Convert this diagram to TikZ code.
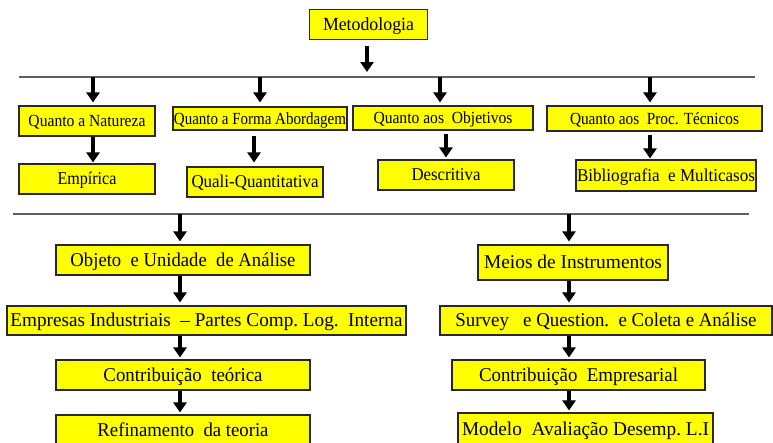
\documentclass[tikz,border=0pt]{standalone}
\usepackage{fontspec}
\setmainfont{Liberation Serif}
\newfontfamily\boxserif[Ligatures=TeX]{Liberation Serif}
\usepackage{graphicx}
\usetikzlibrary{arrows.meta}

% squeeze a label horizontally to a given width (in pt), keeping its height
\newcommand\sqz[2]{\resizebox{#1pt}{\height}{#2}}

\definecolor{boxfill}{RGB}{255,255,0}
\definecolor{boxline}{RGB}{40,40,40}
\definecolor{rulegray}{RGB}{95,95,95}

\tikzset{
  box/.style={draw=boxline, fill=boxfill, line width=1.1pt, inner sep=0pt,
              text=black, text depth=0pt},
  fsmall/.style={font=\boxserif\fontsize{17}{19}\selectfont, text height=11.2pt},
  fmid/.style={font=\boxserif\fontsize{18}{20}\selectfont, text height=11.9pt},
  fbig/.style={font=\boxserif\fontsize{19.5}{22}\selectfont, text height=12.9pt},
  ftop/.style={font=\boxserif\fontsize{18.5}{21}\selectfont, text height=12.2pt},
  arr/.style={draw=black, line width=3.4pt, -{Triangle[width=13pt,length=10pt]}},
  rule/.style={draw=rulegray, line width=1.2pt},
}

\begin{document}
\begin{tikzpicture}[x=1pt, y=-1pt]
\useasboundingbox (0,0) rectangle (773,442);

% title
\node[box, ftop, minimum width=118pt, minimum height=30pt] (met) at (368.5,24.5) {\sqz{91}{Metodologia}};

% upper rule
\coordinate (L1w) at (19,77);
\coordinate (L1e) at (755,77);
\draw[rule] (L1w) -- (L1e);

% classification row
\node[box, fsmall, minimum width=136pt, minimum height=30pt] (nat) at (87,121) {\sqz{117}{Quanto a Natureza}};
\node[box, fsmall, minimum width=174pt, minimum height=23pt] (for) at (260,118.5) {\sqz{172}{Quanto a Forma Abordagem}};
\node[box, fsmall, minimum width=180pt, minimum height=24pt] (obj) at (443,118) {\sqz{139}{Quanto aos\ \ Objetivos}};
\node[box, fsmall, minimum width=215pt, minimum height=25pt] (pro) at (654.5,118.5) {\sqz{169}{Quanto aos\ \ Proc. Técnicos}};

% answers row
\node[box, fmid, minimum width=136pt, minimum height=30pt] (emp) at (87,179) {\sqz{59}{Empírica}};
\node[box, fmid, minimum width=136pt, minimum height=30pt] (qua) at (255,182) {\sqz{127}{Quali-Quantitativa}};
\node[box, fmid, minimum width=136pt, minimum height=30pt] (des) at (446,175) {\sqz{69}{Descritiva}};
\node[box, fmid, minimum width=180pt, minimum height=31pt] (bib) at (666,175.5) {\sqz{178}{Bibliografia\ \ e Multicasos}};

% lower rule
\coordinate (L2w) at (13,214);
\coordinate (L2e) at (749,214);
\draw[rule] (L2w) -- (L2e);

% left column
\node[box, fbig, minimum width=254pt, minimum height=30pt] (ou) at (183,260) {\sqz{225}{Objeto\ \ e Unidade\ \ de Análise}};
\node[box, fbig, minimum width=399pt, minimum height=29pt] (ei) at (206.5,320.5) {\sqz{392}{Empresas Industriais\ \ – Partes Comp.\ Log.\ \ Interna}};
\node[box, fbig, minimum width=254pt, minimum height=30pt] (ct) at (183,375) {\sqz{159}{Contribuição\ \ teórica}};
\node[box, fbig, minimum width=254pt, minimum height=30pt] (rt) at (183,430) {\sqz{171}{Refinamento\ \ da teoria}};

% right column
\node[box, fbig, minimum width=190pt, minimum height=35pt] (mi) at (573,262.5) {\sqz{178}{Meios de Instrumentos}};
\node[box, fbig, minimum width=332pt, minimum height=29pt] (sq) at (606,320.5) {\sqz{301}{Survey\ \ \ e Question.\ \ e Coleta\ e Análise}};
\node[box, fbig, minimum width=253pt, minimum height=30pt] (ce) at (578.5,375) {\sqz{199}{Contribuição\ \ Empresarial}};
\node[box, fbig, minimum width=255pt, minimum height=32pt] (ma) at (585.5,429) {\sqz{247}{Modelo\ \ Avaliação Desemp.\ L.I}};

% title to upper rule
\draw[arr, shorten <=6pt, shorten >=5pt] ([xshift=-1.5pt]met.south) -- ([xshift=-1.5pt]met.south |- L1w);

% upper rule to classification boxes
\draw[arr, shorten >=3pt] ([xshift=6pt]nat.north |- L1w) -- ([xshift=6pt]nat.north);
\draw[arr, shorten >=4pt] (for.north |- L1w) -- (for.north);
\draw[arr, shorten >=3pt] ([xshift=-3pt]obj.north |- L1w) -- ([xshift=-3pt]obj.north);
\draw[arr, shorten >=3pt] ([xshift=-4.5pt]pro.north |- L1w) -- ([xshift=-4.5pt]pro.north);

% classification to answers
\draw[arr, shorten >=1pt] ([xshift=6pt]nat.south) -- ([xshift=6pt]emp.north);
\draw[arr, shorten <=5pt, shorten >=4pt] ([xshift=-6pt]for.south) -- ([xshift=-6pt]for.south |- qua.north);
\draw[arr, shorten <=3pt, shorten >=2pt] ([xshift=3pt]obj.south) -- ([xshift=3pt]obj.south |- des.north);
\draw[arr, shorten <=3pt, shorten >=1pt] ([xshift=-4.5pt]pro.south) -- ([xshift=-4.5pt]pro.south |- bib.north);

% lower rule to the two columns
\draw[arr, shorten >=3pt] ([xshift=-3pt]ou.north |- L2w) -- ([xshift=-3pt]ou.north);
\draw[arr, shorten >=3pt] ([xshift=-4pt]mi.north |- L2w) -- ([xshift=-4pt]mi.north);

% left column chain
\draw[arr, shorten >=3pt] ([xshift=-3pt]ou.south) -- ([xshift=-3pt]ou.south |- ei.north);
\draw[arr, shorten >=2pt] ([xshift=-3pt]ct.north |- ei.south) -- ([xshift=-3pt]ct.north);
\draw[arr, shorten >=2pt] ([xshift=-3pt]ct.south) -- ([xshift=-3pt]rt.north);

% right column chain
\draw[arr, shorten >=3pt] ([xshift=-4pt]mi.south) -- ([xshift=-4pt]mi.south |- sq.north);
\draw[arr, shorten >=2pt] ([xshift=-4pt]mi.south |- sq.south) -- ([xshift=-4pt]mi.south |- ce.north);
\draw[arr, shorten >=2pt] ([xshift=-4pt]mi.south |- ce.south) -- ([xshift=-4pt]mi.south |- ma.north);
\end{tikzpicture}
\end{document}
